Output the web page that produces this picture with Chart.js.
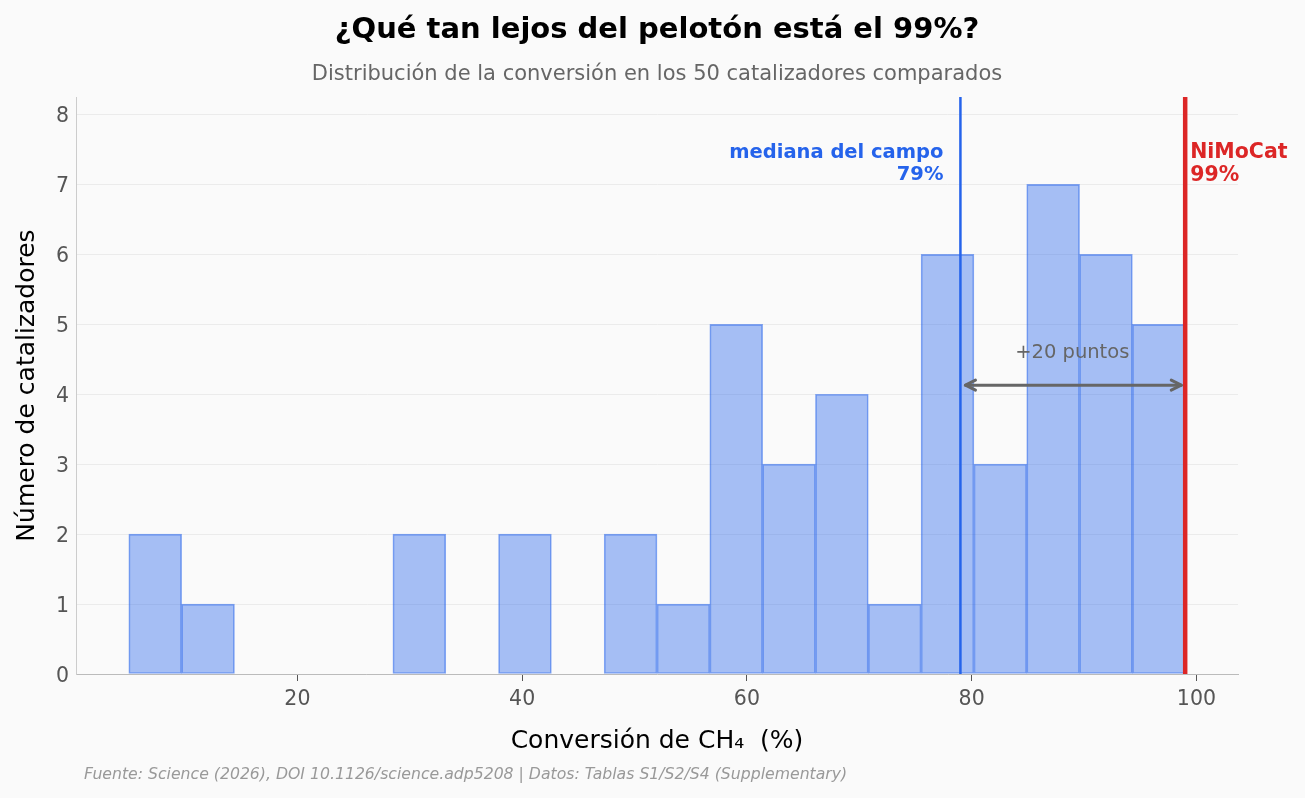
<!DOCTYPE html>
<html><head><meta charset="utf-8">
<script src="https://cdn.jsdelivr.net/npm/chart.js@4"></script>
<style>html,body{margin:0;padding:0;background:#fafafa}#wrap{width:1305px;height:798px;position:relative}</style>
</head><body><div id="wrap"><canvas id="c"></canvas></div>
<script>
const binEdges = [5, 9.7, 14.4, 19.1, 23.8, 28.5, 33.2, 37.9, 42.6, 47.3, 52, 56.7, 61.4, 66.1, 70.8, 75.5, 80.2, 84.9, 89.6, 94.3, 99];
const counts = [2, 1, 0, 0, 0, 2, 0, 2, 0, 2, 1, 5, 3, 4, 1, 6, 3, 7, 6, 5];
const xTicks = [20, 40, 60, 80, 100];
const yTicks = [0, 1, 2, 3, 4, 5, 6, 7, 8];
const medianValue = 79;
const nimocatValue = 99;
const gapLabel = '+20 puntos';
const titleText = '¿Qué tan lejos del pelotón está el 99%?';
const subtitleText = 'Distribución de la conversión en los 50 catalizadores comparados';
const xTitle = 'Conversión de CH₄  (%)';
const yTitle = 'Número de catalizadores';
const footerText = 'Fuente: Science (2026), DOI 10.1126/science.adp5208 | Datos: Tablas S1/S2/S4 (Supplementary)';

const FONT = '"DejaVu Sans", sans-serif';
const barData = counts.map((c, i) => ({x: (binEdges[i] + binEdges[i+1]) / 2, y: c}));

const annot = {
  id: 'annot',
  afterDatasetsDraw(chart) {
    const {ctx, chartArea: a, scales: {x, y}} = chart;
    ctx.save();
    // median line
    const xm = x.getPixelForValue(medianValue);
    ctx.strokeStyle = '#2563eb'; ctx.lineWidth = 2.5;
    ctx.beginPath(); ctx.moveTo(xm, a.top); ctx.lineTo(xm, a.bottom); ctx.stroke();
    // NiMoCat line
    const xn = x.getPixelForValue(nimocatValue);
    ctx.strokeStyle = '#dc2626'; ctx.lineWidth = 4.5;
    ctx.beginPath(); ctx.moveTo(xn, a.top); ctx.lineTo(xn, a.bottom); ctx.stroke();
    // labels
    ctx.font = 'bold 19.5px ' + FONT; ctx.textBaseline = 'middle';
    ctx.fillStyle = '#2563eb'; ctx.textAlign = 'right';
    ctx.fillText('mediana del campo', xm - 17, y.getPixelForValue(7.45));
    ctx.fillText(medianValue + '%', xm - 17, y.getPixelForValue(7.13));
    ctx.font = 'bold 20.5px ' + FONT;
    ctx.fillStyle = '#dc2626'; ctx.textAlign = 'left';
    ctx.fillText('NiMoCat', xn + 5, y.getPixelForValue(7.45));
    ctx.fillText(nimocatValue + '%', xn + 5, y.getPixelForValue(7.12));
    // arrow
    const ya = y.getPixelForValue(4.13);
    const x1 = x.getPixelForValue(medianValue + 0.45), x2 = x.getPixelForValue(nimocatValue - 0.35);
    ctx.strokeStyle = '#666'; ctx.lineWidth = 3; ctx.lineCap = 'round'; ctx.lineJoin = 'round';
    ctx.beginPath(); ctx.moveTo(x1, ya); ctx.lineTo(x2, ya); ctx.stroke();
    ctx.beginPath();
    ctx.moveTo(x1 + 10, ya - 5); ctx.lineTo(x1, ya); ctx.lineTo(x1 + 10, ya + 5);
    ctx.moveTo(x2 - 10, ya - 5); ctx.lineTo(x2, ya); ctx.lineTo(x2 - 10, ya + 5);
    ctx.stroke();
    ctx.font = '19.5px ' + FONT; ctx.fillStyle = '#666'; ctx.textAlign = 'center';
    ctx.fillText(gapLabel, x.getPixelForValue((medianValue + nimocatValue) / 2 - 0.05), y.getPixelForValue(4.59));
    // title + subtitle centered over plot area
    const cx = (a.left + a.right) / 2;
    ctx.font = 'bold 29px ' + FONT; ctx.fillStyle = '#000'; ctx.textAlign = 'center';
    ctx.fillText(titleText, cx, 30);
    ctx.font = '21px ' + FONT; ctx.fillStyle = '#666';
    ctx.fillText(subtitleText, cx, 74.5);
    // footer
    ctx.font = 'italic 15.7px ' + FONT; ctx.fillStyle = '#999'; ctx.textAlign = 'left';
    ctx.fillText(footerText, 84, 775);
    ctx.restore();
  }
};

new Chart(document.getElementById('c'), {
  type: 'bar',
  data: {
    datasets: [{
      data: barData,
      backgroundColor: 'rgba(37,99,235,0.4)',
      borderColor: 'rgba(37,99,235,0.55)',
      borderWidth: 1,
      borderSkipped: false,
      barPercentage: 1,
      categoryPercentage: 1
    }]
  },
  options: {
    responsive: true,
    maintainAspectRatio: false,
    animation: false,
    layout: {padding: {left: 0, right: 67, top: 97, bottom: 35}},
    plugins: {
      legend: {display: false},
      tooltip: {enabled: false},
      title: {display: false},
      subtitle: {display: false}
    },
    scales: {
      x: {
        type: 'linear', offset: false, min: 0.3, max: 103.7,
        afterBuildTicks: s => { s.ticks = xTicks.map(v => ({value: v})); },
        afterFit: s => { s.height = 89; },
        ticks: {color: '#555', font: {family: FONT, size: 20.5}, padding: 6},
        grid: {offset: false, drawOnChartArea: false, drawTicks: true, tickLength: 7, tickColor: '#555', tickWidth: 1},
        border: {color: '#bbb', width: 1},
        title: {display: true, text: xTitle, color: '#000', font: {family: FONT, size: 25}, padding: {top: 0, bottom: 7}}
      },
      y: {
        min: 0, max: 8.25,
        afterBuildTicks: s => { s.ticks = yTicks.map(v => ({value: v})); },
        afterFit: s => { s.width = 76; },
        ticks: {color: '#555', font: {family: FONT, size: 20.5}, padding: 7, labelOffset: 2.5},
        grid: {color: '#ebebeb', drawTicks: false, lineWidth: 1},
        border: {color: '#ccc', width: 1},
        title: {display: true, text: yTitle, color: '#000', font: {family: FONT, size: 25}, padding: {top: 12, bottom: 0}}
      }
    }
  },
  plugins: [annot]
});
</script></body></html>
